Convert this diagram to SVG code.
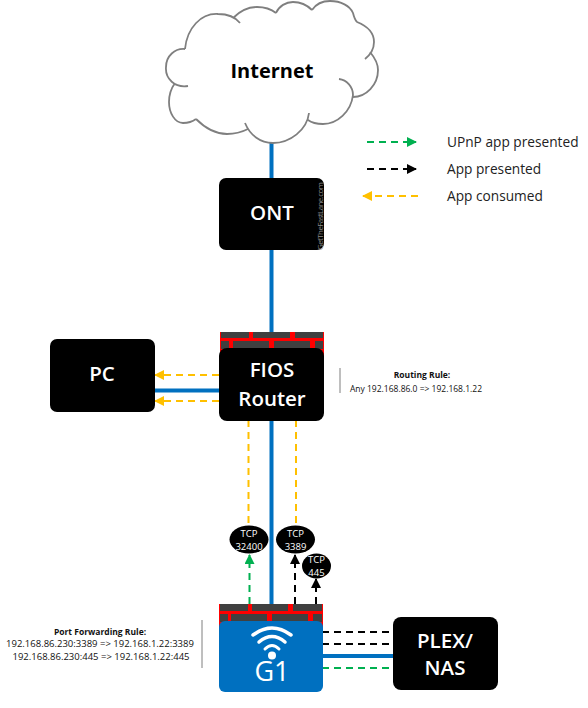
<svg xmlns="http://www.w3.org/2000/svg" width="588" height="708" viewBox="0 0 588 708">
<style>
.box{fill:#000}
.w{fill:#fff;font-family:"Open Sans",sans-serif;font-weight:600;font-size:20.5px;text-anchor:middle}
.s{font-family:"Open Sans",sans-serif;font-size:8.5px;text-anchor:middle;fill:#111}
.p{font-size:9.5px}
.l{font-family:"Open Sans",sans-serif;font-size:13.7px;fill:#222}
.t{fill:#fff;font-family:"Open Sans",sans-serif;font-size:9.5px;text-anchor:middle}
.blue{stroke:#0070c0;stroke-width:4;fill:none}
.g{stroke:#00b050;stroke-width:2;stroke-dasharray:7 5;fill:none}
.k{stroke:#000;stroke-width:2;stroke-dasharray:7 5;fill:none}
.y{stroke:#ffc000;stroke-width:2;stroke-dasharray:7 5;fill:none}
.bk{fill:#404040}
.cl{fill:none;stroke:#7f7f7f;stroke-width:1.8}
</style>
<defs>
<marker id="ag" markerWidth="5" markerHeight="5" refX="4.5" refY="2.5" orient="auto" markerUnits="strokeWidth"><path d="M0 0L5 2.5L0 5Z" fill="#00b050"/></marker>
<marker id="ak" markerWidth="5" markerHeight="5" refX="4.5" refY="2.5" orient="auto" markerUnits="strokeWidth"><path d="M0 0L5 2.5L0 5Z" fill="#000"/></marker>
<marker id="ay" markerWidth="5" markerHeight="5" refX="4.5" refY="2.5" orient="auto" markerUnits="strokeWidth"><path d="M0 0L5 2.5L0 5Z" fill="#ffc000"/></marker>
</defs>
<g id="connectors">
<path class="blue" d="M271.5 143V606"/>
<path class="blue" d="M150 390.5H225"/>
<path class="blue" d="M320 656H395"/>
<path class="y" d="M219 375H155" marker-end="url(#ay)"/>
<path class="y" d="M219 401H155" marker-end="url(#ay)"/>
<path class="y" d="M248.5 420V527"/>
<path class="y" d="M296 420V527"/>
<path class="g" d="M249.5 604V555" marker-end="url(#ag)"/>
<path class="k" d="M295 604V555" marker-end="url(#ak)"/>
<path class="k" d="M316 604V579" marker-end="url(#ak)"/>
<path class="k" d="M322 632H394"/>
<path class="k" d="M322 644H394"/>
<path class="g" d="M322 668H394"/>
</g>
<g id="internet">
<path class="cl" d="M188 86C175 88 165 79 166 67C166 56 175 48 185 49M185 49C187 28 201 13 218 14C228 14 236 18 240 23M233 18C240 11 248 7 257 7C264 7 271 9 276 13M276 13C279 6 286 2 293 2C300 2 307 5 312 10M312 10C316 4 323 1 330 1C341 1 350 6 353 13C354 17 355 20 357 22M357 22C367 26 374 33 374 42C374 50 370 55 365 59M370 52C375 58 378 64 378 70C378 85 366 97 353 97M339 79C347 80 353 87 353 95C351 112 337 124 323 124C317 124 312 123 308 120M309 113C307 130 290 143 273 143C260 143 250 135 245 123M248 129C240 133 233 134 227 134C214 134 204 127 196 119M196 119C192 122 187 123 183 123C175 123 169 113 169 102C169 95 170 90 175 83"/>
<text class="w" x="272" y="78" style="fill:#000;font-size:20px;font-weight:700">Internet</text>
</g>
<g id="ont">
<rect class="box" x="219" y="178" width="105" height="72" rx="7"/>
<text class="w" x="272" y="220">ONT</text>
<text transform="translate(323,250) rotate(-90)" font-family="Open Sans,sans-serif" font-size="8" fill="#8a8a8a" textLength="68">GetTheFastLane.com</text>
</g>
<g id="pc">
<rect class="box" x="50" y="339" width="105" height="73" rx="7"/>
<text class="w" x="102" y="381">PC</text>
</g>
<g id="fios">
<rect x="220" y="332" width="104" height="30" fill="#f00"/>
<g class="bk"><rect x="221" y="332" width="28" height="6"/><rect x="253" y="332" width="37" height="6"/><rect x="295" y="332" width="28" height="6"/><rect x="221" y="341" width="8" height="8"/><rect x="233" y="341" width="36" height="8"/><rect x="274" y="341" width="36" height="8"/><rect x="315" y="341" width="8" height="8"/></g>
<rect class="box" x="219" y="348" width="105" height="73" rx="8"/>
<text class="w" x="272" y="377">FIOS</text>
<text class="w" x="272" y="406">Router</text>
</g>
<g id="routing-rule">
<path d="M340 368V393" stroke="#7f7f7f" stroke-width="1"/>
<text class="s" x="422" y="378" font-weight="700">Routing Rule:</text>
<text class="s" x="416" y="392">Any 192.168.86.0 =&gt; 192.168.1.22</text>
</g>
<g id="tcp32400"><ellipse class="box" cx="249" cy="539.5" rx="19.5" ry="14"/><text class="t" x="249" y="537">TCP</text><text class="t" x="249" y="550">32400</text></g>
<g id="tcp3389"><ellipse class="box" cx="295.5" cy="539.5" rx="19.5" ry="14"/><text class="t" x="295.5" y="537">TCP</text><text class="t" x="295.5" y="550">3389</text></g>
<g id="tcp445"><ellipse class="box" cx="316.5" cy="566" rx="14.5" ry="12.5"/><text class="t" x="316.5" y="563">TCP</text><text class="t" x="316.5" y="576">445</text></g>
<g id="g1">
<rect x="219" y="604" width="104" height="30" fill="#f00"/>
<g class="bk"><rect x="220" y="604" width="28" height="7"/><rect x="252" y="604" width="36" height="7"/><rect x="293" y="604" width="29" height="7"/><rect x="220" y="614" width="8" height="8"/><rect x="231" y="614" width="36" height="8"/><rect x="272" y="614" width="36" height="8"/><rect x="313" y="614" width="9" height="8"/></g>
<rect x="219" y="621" width="104" height="71" rx="6" fill="#0070c0"/>
<path d="M253 635Q272 621 291 635" fill="none" stroke="#fff" stroke-width="3.5" stroke-linecap="round"/>
<path d="M259 642Q272 631 285 642" fill="none" stroke="#fff" stroke-width="3.5" stroke-linecap="round"/>
<path d="M265 649Q272 642 279 649" fill="none" stroke="#fff" stroke-width="3" stroke-linecap="round"/>
<circle cx="272" cy="655.5" r="4" fill="#fff"/>
<text x="272" y="681" font-family="Open Sans,sans-serif" font-size="27" fill="#fff" text-anchor="middle">G1</text>
</g>
<g id="plex">
<rect class="box" x="393" y="617" width="105" height="73" rx="8"/>
<text class="w" x="445" y="648">PLEX/</text>
<text class="w" x="445" y="675">NAS</text>
</g>
<g id="port-rule">
<path d="M202 620V668" stroke="#7f7f7f" stroke-width="1"/>
<text class="s" x="100" y="635" font-weight="700">Port Forwarding Rule:</text>
<text class="s p" x="100" y="647">192.168.86.230:3389 =&gt; 192.168.1.22:3389</text>
<text class="s p" x="101" y="660">192.168.86.230:445 =&gt; 192.168.1.22:445</text>
</g>
<g id="legend">
<path class="g" d="M367 142H416" marker-end="url(#ag)"/>
<path class="k" d="M367 169H416" marker-end="url(#ak)"/>
<path class="y" d="M418 196H363" marker-end="url(#ay)"/>
<text class="l" x="447" y="147">UPnP app presented</text>
<text class="l" x="447" y="174">App presented</text>
<text class="l" x="447" y="201">App consumed</text>
</g>
</svg>
